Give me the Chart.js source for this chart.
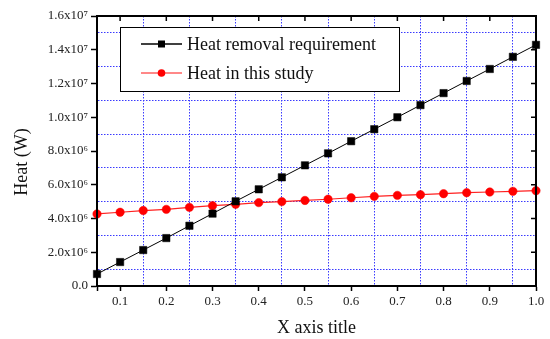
<!DOCTYPE html>
<html>
<head>
<meta charset="utf-8">
<script src="https://cdn.jsdelivr.net/npm/chart.js@4.4.0/dist/chart.umd.min.js"></script>
<style>
  body { margin: 0; background: #fff; }
</style>
</head>
<body>
<canvas id="heat-chart" width="550" height="339"></canvas>
<script>
var xValues = [0.05, 0.10, 0.15, 0.20, 0.25, 0.30, 0.35, 0.40, 0.45, 0.50,
               0.55, 0.60, 0.65, 0.70, 0.75, 0.80, 0.85, 0.90, 0.95, 1.00];
var heatRequired = [0.71e6, 1.42e6, 2.13e6, 2.84e6, 3.57e6, 4.29e6, 5.02e6, 5.73e6, 6.44e6, 7.15e6,
                    7.86e6, 8.58e6, 9.29e6, 10.0e6, 10.72e6, 11.43e6, 12.15e6, 12.86e6, 13.58e6, 14.29e6];
var heatStudy = [4.27e6, 4.37e6, 4.47e6, 4.54e6, 4.66e6, 4.76e6, 4.84e6, 4.94e6, 5.00e6, 5.07e6,
                 5.14e6, 5.23e6, 5.31e6, 5.37e6, 5.41e6, 5.47e6, 5.53e6, 5.57e6, 5.61e6, 5.65e6];
var seriesNames = ["Heat removal requirement", "Heat in this study"];

var xTickValues = [0.1, 0.2, 0.3, 0.4, 0.5, 0.6, 0.7, 0.8, 0.9, 1.0];
var xTickLabels = ["0.1", "0.2", "0.3", "0.4", "0.5", "0.6", "0.7", "0.8", "0.9", "1.0"];
var yTickValues = [0, 2e6, 4e6, 6e6, 8e6, 10e6, 12e6, 14e6, 16e6];
var yTickLabels = ["0.0", "2.0x10\u2076", "4.0x10\u2076", "6.0x10\u2076", "8.0x10\u2076",
                   "1.0x10\u2077", "1.2x10\u2077", "1.4x10\u2077", "1.6x10\u2077"];

var serif = "'Liberation Serif', 'Times New Roman', serif";
var gridBlue = "#3a3aff";

function findIndex(list, v) {
  for (var i = 0; i < list.length; i++) {
    if (Math.abs(list[i] - v) < 1e-6 * Math.max(1, Math.abs(v))) return i;
  }
  return -1;
}

// frame, inward ticks on top/right, legend box and y title
var extras = {
  id: "extras",
  afterDraw: function(chart) {
    var ctx = chart.ctx, a = chart.chartArea;
    var xs = chart.scales.x, ys = chart.scales.y;
    ctx.save();
    ctx.strokeStyle = "#000";
    ctx.lineWidth = 2;
    ctx.strokeRect(a.left, a.top, a.right - a.left, a.bottom - a.top);
    ctx.lineWidth = 1.5;
    ctx.beginPath();
    xTickValues.forEach(function(v) {
      var px = xs.getPixelForValue(v);
      ctx.moveTo(px, a.top);
      ctx.lineTo(px, a.top + 5);
    });
    yTickValues.forEach(function(v) {
      var py = ys.getPixelForValue(v);
      ctx.moveTo(a.right, py);
      ctx.lineTo(a.right - 5, py);
    });
    ctx.stroke();

    // legend
    var bx = 120, by = 27, bw = 279, bh = 64;
    ctx.fillStyle = "#fff";
    ctx.fillRect(bx, by, bw, bh);
    ctx.lineWidth = 1;
    ctx.strokeStyle = "#000";
    ctx.strokeRect(bx + 0.5, by + 0.5, bw, bh);
    var rows = [44, 73];
    var lineColors = ["#000", "#ff6060"];
    ctx.font = "18px " + serif;
    ctx.textBaseline = "middle";
    ctx.textAlign = "left";
    chart.data.datasets.forEach(function(ds, i) {
      var y = rows[i];
      ctx.strokeStyle = lineColors[i];
      ctx.lineWidth = 1.5;
      ctx.beginPath();
      ctx.moveTo(141, y);
      ctx.lineTo(182, y);
      ctx.stroke();
      ctx.fillStyle = ds.pointBackgroundColor;
      if (ds.pointStyle === "rect") {
        ctx.fillRect(158, y - 3.5, 7, 7);
      } else {
        ctx.beginPath();
        ctx.arc(161.5, y, 3.8, 0, Math.PI * 2);
        ctx.fill();
      }
      ctx.fillStyle = "#111";
      ctx.fillText(ds.label, 187, y + 1);
    });

    // y axis title
    ctx.translate(27, 162);
    ctx.rotate(-Math.PI / 2);
    ctx.textAlign = "center";
    ctx.textBaseline = "alphabetic";
    ctx.fillStyle = "#111";
    ctx.fillText("Heat (W)", 0, 0);
    ctx.restore();
  }
};

new Chart(document.getElementById("heat-chart"), {
  type: "line",
  data: {
    labels: xValues,
    datasets: [{
        label: seriesNames[0],
        data: xValues.map(function(x, i) { return {x: x, y: heatRequired[i]}; }),
        borderColor: "#000",
        borderWidth: 1,
        pointStyle: "rect",
        pointRadius: 5.2,
        pointBorderWidth: 0.5,
        pointBackgroundColor: "#000",
        pointBorderColor: "#000",
        clip: false,
        fill: false
      },
      {
        label: seriesNames[1],
        data: xValues.map(function(x, i) { return {x: x, y: heatStudy[i]}; }),
        borderColor: "#ff2020",
        borderWidth: 1.2,
        pointStyle: "circle",
        pointRadius: 4.2,
        pointBorderWidth: 0.5,
        pointBackgroundColor: "#ff0000",
        pointBorderColor: "#ff0000",
        clip: false,
        fill: false
      }
    ]
  },
  options: {
    responsive: false,
    animation: false,
    layout: { padding: { top: 16, right: 14, left: 0, bottom: 0 } },
    plugins: { legend: { display: false }, tooltip: { enabled: false } },
    scales: {
      x: {
        type: "linear",
        min: 0.05,
        max: 1.0,
        afterBuildTicks: function(scale) {
          scale.ticks = xValues.map(function(v) { return {value: v}; });
        },
        afterFit: function(scale) { scale.height = 53; },
        ticks: {
          autoSkip: false,
          maxRotation: 0,
          padding: 3,
          color: "#222",
          font: { family: serif, size: 13 },
          callback: function(v) {
            var i = findIndex(xTickValues, v);
            return i < 0 ? "" : xTickLabels[i];
          }
        },
        grid: {
          lineWidth: 1,
          color: function(c) {
            return (c.index > 0 && c.index % 2 === 0) ? gridBlue : "rgba(0,0,0,0)";
          },
          tickColor: function(c) {
            return (c.index === 0 || c.index % 2 === 1) ? "#000" : "rgba(0,0,0,0)";
          },
          tickLength: 5,
          tickWidth: 1.5
        },
        border: { color: "#000", width: 2, dash: [1.5, 1.5] },
        title: {
          display: true,
          text: "X axis title",
          color: "#111",
          font: { family: serif, size: 18 },
          padding: { top: 0, bottom: 0 }
        }
      },
      y: {
        min: 0,
        max: 16e6,
        afterBuildTicks: function(scale) {
          var t = [];
          for (var i = 0; i <= 16; i++) t.push({value: i * 1e6});
          scale.ticks = t;
        },
        afterFit: function(scale) { scale.width = 97; },
        ticks: {
          autoSkip: false,
          padding: 3,
          color: "#222",
          font: { family: serif, size: 13 },
          callback: function(v) {
            var i = findIndex(yTickValues, v);
            return i < 0 ? "" : yTickLabels[i];
          }
        },
        grid: {
          lineWidth: 1,
          color: function(c) {
            return c.index % 2 === 1 ? gridBlue : "rgba(0,0,0,0)";
          },
          tickColor: function(c) {
            return c.index % 2 === 0 ? "#000" : "rgba(0,0,0,0)";
          },
          tickLength: 6,
          tickWidth: 1.5
        },
        border: { color: "#000", width: 2, dash: [1.5, 1.5] },
        title: { display: false }
      }
    }
  },
  plugins: [extras]
});
</script>
</body>
</html>
